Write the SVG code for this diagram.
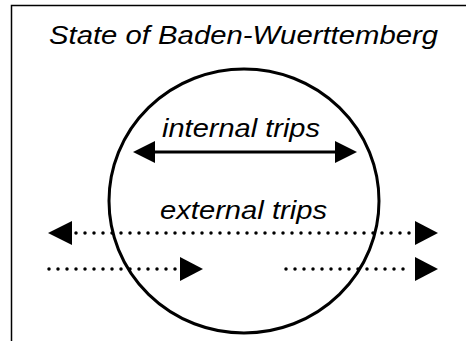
<svg xmlns="http://www.w3.org/2000/svg" width="466" height="341" viewBox="0 0 466 341">
<defs>
<style>
.t{font-family:"Liberation Sans",Arial,sans-serif;font-style:italic;font-size:25px;fill:#000}
.solid{stroke:#000;stroke-width:3;fill:none}
.dot{stroke:#000;stroke-width:3.5;stroke-linecap:round;stroke-dasharray:0 9;fill:none}
.head{fill:#000}
</style>
</defs>
<rect width="466" height="341" fill="#fff"/>
<g id="frame"><path d="M11.5,341 V5.5 H466" fill="none" stroke="#000" stroke-width="1.5"/></g>
<g id="title"><text class="t" x="49" y="44" textLength="389" lengthAdjust="spacingAndGlyphs">State of Baden-Wuerttemberg</text></g>
<g id="state"><ellipse cx="244" cy="201" rx="135" ry="132" fill="none" stroke="#000" stroke-width="3"/></g>
<g id="label-internal"><text class="t" x="162" y="137" textLength="158" lengthAdjust="spacingAndGlyphs">internal trips</text></g>
<g id="label-external"><text class="t" x="160" y="219" textLength="167" lengthAdjust="spacingAndGlyphs">external trips</text></g>
<g id="connectors">
<line class="solid" x1="150" y1="152" x2="340" y2="152"/>
<polygon class="head" points="133,152 155,141 155,163"/>
<polygon class="head" points="357,152 335,141 335,163"/>
<path class="dot" d="M76,233 H412"/>
<polygon class="head" points="48,233 72,221 72,245"/>
<polygon class="head" points="438,233 415,221 415,245"/>
<path class="dot" d="M49,269 H176"/>
<polygon class="head" points="203,269 180,257 180,281"/>
<path class="dot" d="M286,269 H412"/>
<polygon class="head" points="438,269 415,257 415,281"/>
</g>
</svg>
